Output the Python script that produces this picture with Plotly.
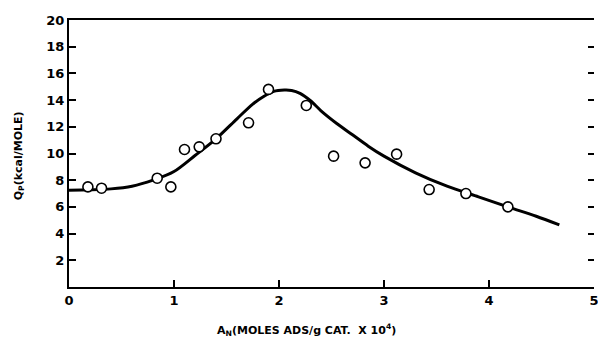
import plotly.graph_objects as go

# Experimental points (A_N x 10^4, Q_P kcal/mole)
pts_x = [0.18, 0.31, 0.84, 0.97, 1.10, 1.24, 1.40, 1.71, 1.90, 2.26, 2.52, 2.82, 3.12, 3.43, 3.78, 4.18]
pts_y = [7.5, 7.4, 8.15, 7.5, 10.3, 10.5, 11.1, 12.3, 14.8, 13.6, 9.8, 9.3, 9.95, 7.3, 7.0, 6.0]

# Smooth fitted curve
curve_x = [0, 0.2, 0.4, 0.6, 0.8, 1.0, 1.2, 1.4, 1.6, 1.75, 1.85, 1.95, 2.05, 2.12, 2.2,
           2.3, 2.4, 2.55, 2.7, 2.85, 3.0, 3.3, 3.6, 3.9, 4.2, 4.45, 4.67]
curve_y = [7.25, 7.28, 7.35, 7.55, 8.0, 8.65, 9.85, 11.1, 12.6, 13.7, 14.25, 14.65, 14.75, 14.72, 14.5,
           13.95, 13.2, 12.25, 11.4, 10.55, 9.8, 8.55, 7.55, 6.75, 5.95, 5.3, 4.65]

x_ticks = [0, 1, 2, 3, 4, 5]
y_ticks = [2, 4, 6, 8, 10, 12, 14, 16, 18, 20]

FONT = "DejaVu Sans"

fig = go.Figure()
fig.add_trace(go.Scatter(x=curve_x, y=curve_y, mode="lines", line=dict(color="black", width=3, shape="spline", smoothing=0.8),
                         showlegend=False, hoverinfo="skip"))
fig.add_trace(go.Scatter(x=pts_x, y=pts_y, mode="markers",
                         marker=dict(size=10, color="white", line=dict(color="black", width=1.6)),
                         showlegend=False))
# invisible trace for right-side ticks
fig.add_trace(go.Scatter(x=[0], y=[0], yaxis="y2", mode="markers", marker=dict(opacity=0), showlegend=False, hoverinfo="skip"))

fig.update_layout(
    width=598, height=349,
    margin=dict(l=69, r=4, t=20, b=62),
    paper_bgcolor="white", plot_bgcolor="white",
    font=dict(family=FONT, color="black"),
    xaxis=dict(range=[0, 5], tickvals=x_ticks, ticktext=[str(v) for v in x_ticks],
               showgrid=False, zeroline=False, showline=True, linecolor="black", linewidth=2,
               mirror=True, ticks="inside", ticklen=7, tickwidth=2, tickcolor="black",
               automargin=False, ticklabeloverflow="allow",
               tickfont=dict(family=FONT, size=13, weight="bold")),
    yaxis=dict(range=[0, 20], tickvals=y_ticks, ticktext=[str(v) for v in y_ticks],
               showgrid=False, zeroline=False, showline=True, linecolor="black", linewidth=2,
               ticks="inside", ticklen=7, tickwidth=2, tickcolor="black", automargin=False,
               tickfont=dict(family=FONT, size=13, weight="bold")),
    yaxis2=dict(range=[0, 20], overlaying="y", side="right", tickvals=y_ticks,
                showticklabels=False, showgrid=False, zeroline=False, showline=False,
                ticks="inside", ticklen=6, tickwidth=2, tickcolor="black", automargin=False),
    annotations=[
        dict(text="A<sub>N</sub>(MOLES ADS/g CAT.  X 10<sup>4</sup>)", xref="paper", yref="paper",
             x=(306 - 69) / 525, y=-0.16, showarrow=False, yanchor="middle", xanchor="center",
             font=dict(family=FONT, size=11, weight="bold")),
        dict(text="Q<sub>P</sub>(kcal/MOLE)", xref="paper", yref="paper",
             x=-0.095, y=0.49, textangle=-90, showarrow=False, xanchor="center", yanchor="middle",
             font=dict(family=FONT, size=11, weight="bold")),
    ],
)

fig.write_html("out.html")
